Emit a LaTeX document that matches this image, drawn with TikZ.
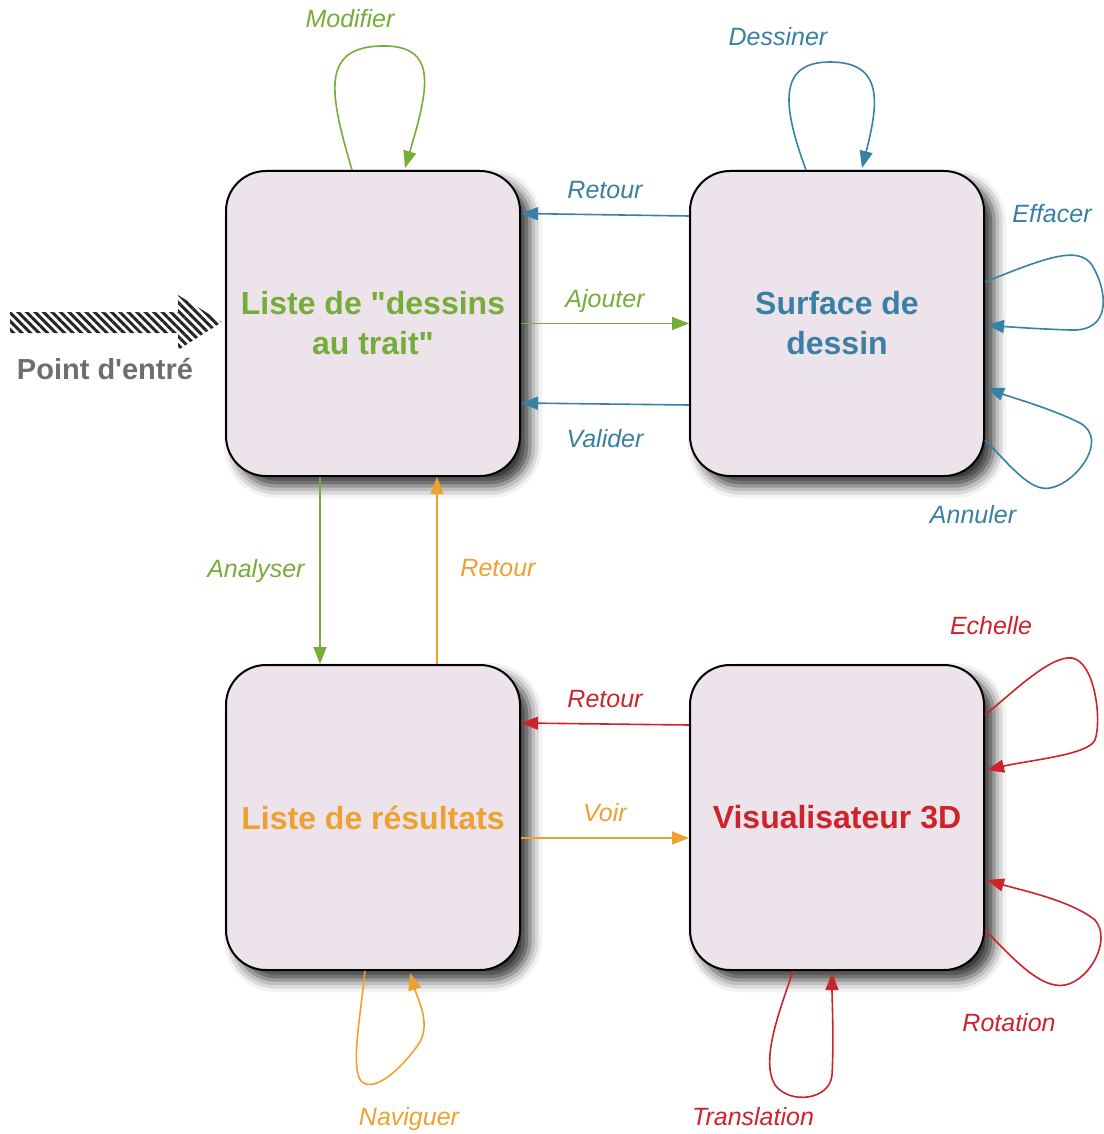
\documentclass[tikz,border=0pt]{standalone}
\usepackage{fontspec}
\setmainfont{Liberation Sans}
\usepackage{tikz}
\usetikzlibrary{arrows.meta, positioning, calc, shadows.blur, patterns.meta}

\definecolor{vert}{RGB}{118,172,57}
\definecolor{bleu}{RGB}{56,128,164}
\definecolor{orange}{RGB}{238,160,48}
\definecolor{rouge}{RGB}{207,35,43}
\definecolor{gris}{RGB}{110,110,110}
\definecolor{fond}{RGB}{237,227,234}

\begin{document}
\begin{tikzpicture}[
  x=0.5pt, y=-0.5pt,
  node distance=93.5pt and 84pt,
  etat/.style={draw=black, line width=1pt, rounded corners=20pt, fill=fond, minimum width=147pt, minimum height=152.5pt, align=center, font=\fontsize{16}{20}\selectfont\bfseries, blur shadow={shadow xshift=5pt, shadow yshift=-5pt, shadow blur radius=6pt, shadow opacity=80}},
  fleche/.style={-{Triangle[length=8.5pt, width=6.5pt]}, line width=0.8pt},
  lbl/.style={font=\fontsize{12.5}{15}\selectfont\itshape, text depth=0.25em}
]
  \useasboundingbox (0,0) rectangle (1103,1134);

  \node[etat, text=vert] (dessins) at (373,323.5) {Liste de \textquotedbl dessins\\au trait\textquotedbl};
  \node[etat, text=bleu, right=of dessins] (surface) {Surface de\\dessin};
  \node[etat, text=orange, below=of dessins] (resultats) {Liste de résultats};
  \node[etat, text=rouge, right=of resultats] (visu) {Visualisateur 3D};

  \fill[pattern={Lines[angle=-45, distance=3pt, line width=1.5pt]}, pattern color=black!85] (10,312) -- (178,312) -- (178,295) -- (222,322) -- (178,350) -- (178,333) -- (10,333) -- cycle;
  \node[font=\fontsize{14.5}{17}\selectfont\bfseries, text=gris] (entree) at (105,369) {Point d\textquotesingle entré};

  \draw[fleche, vert] (dessins.east) -- node[lbl, above=2pt] {Ajouter} (surface.west);
  \draw[fleche, bleu] ($(surface.west)+(0,-107.5)$) -- node[lbl, above=2pt] {Retour} ($(dessins.east)+(0,-110)$);
  \draw[fleche, bleu] ($(surface.west)+(0,81.5)$) -- node[lbl, below=9pt] {Valider} ($(dessins.east)+(0,79.5)$);
  \draw[fleche, vert] ($(dessins.south)+(-53,0)$) -- node[lbl, left=4pt] {Analyser} ($(resultats.north)+(-53,0)$);
  \draw[fleche, orange] ($(resultats.north)+(64,0)$) -- node[lbl, right=8pt] {Retour} ($(dessins.south)+(64,0)$);
  \draw[fleche, rouge] ($(visu.west)+(0,-92.5)$) -- node[lbl, above=2pt] {Retour} ($(resultats.east)+(0,-94.5)$);
  \draw[fleche, orange] ($(resultats.east)+(0,20.5)$) -- node[lbl, above=2pt] {Voir} ($(visu.west)+(0,20.5)$);

  \draw[fleche, vert] ($(dessins.north)+(-21,0)$) .. controls (330,95) and (320,48) .. (380,46) .. controls (440,44) and (428,90) .. ($(dessins.north)+(32,-2)$);
  \node[lbl, text=vert] (modifier) at (350,21) {Modifier};

  \draw[fleche, bleu] ($(surface.north)+(-31,0)$) .. controls (782,105) and (778,62) .. (830,62) .. controls (885,62) and (878,105) .. ($(surface.north)+(25,-2)$);
  \node[lbl, text=bleu] (dessiner) at (778,39) {Dessiner};

  \draw[fleche, bleu] ($(surface.east)+(0,-41.5)$) .. controls (1045,258) and (1078,245) .. (1092,265) .. controls (1108,292) and (1112,332) .. (1070,330) .. controls (1040,329) and (1010,327) .. ($(surface.east)+(2,1.5)$);
  \node[lbl, text=bleu] (effacer) at (1052,216) {Effacer};

  \draw[fleche, bleu] ($(surface.east)+(0,116.5)$) .. controls (1010,465) and (1030,492) .. (1050,488) .. controls (1075,484) and (1110,440) .. (1080,423) .. controls (1050,408) and (1010,397) .. ($(surface.east)+(2,64.5)$);
  \node[lbl, text=bleu] (annuler) at (973,517) {Annuler};

  \draw[fleche, rouge] ($(visu.east)+(0,-102.5)$) .. controls (1010,695) and (1050,655) .. (1072,658) .. controls (1095,662) and (1102,720) .. (1095,740) .. controls (1088,755) and (1030,760) .. ($(visu.east)+(2,-47.5)$);
  \node[lbl, text=rouge] (echelle) at (991,628) {Echelle};

  \draw[fleche, rouge] ($(visu.east)+(0,112.5)$) .. controls (1010,955) and (1040,990) .. (1065,985) .. controls (1090,980) and (1112,940) .. (1095,920) .. controls (1070,900) and (1020,890) .. ($(visu.east)+(2,62.5)$);
  \node[lbl, text=rouge] (rotation) at (1009,1025) {Rotation};

  \draw[fleche, rouge] ($(visu.south)+(-44,0)$) .. controls (780,1010) and (760,1060) .. (775,1085) .. controls (790,1105) and (830,1100) .. (832,1075) .. controls (834,1040) and (832,1000) .. ($(visu.south)+(-5,2)$);
  \node[lbl, text=rouge] (translation) at (753,1119) {Translation};

  \draw[fleche, orange] ($(resultats.south)+(-8,0)$) .. controls (360,1020) and (350,1070) .. (362,1082) .. controls (375,1092) and (400,1070) .. (418,1045) .. controls (432,1025) and (418,1000) .. ($(resultats.south)+(37,2)$);
  \node[lbl, text=orange] (naviguer) at (409,1119) {Naviguer};
\end{tikzpicture}
\end{document}
